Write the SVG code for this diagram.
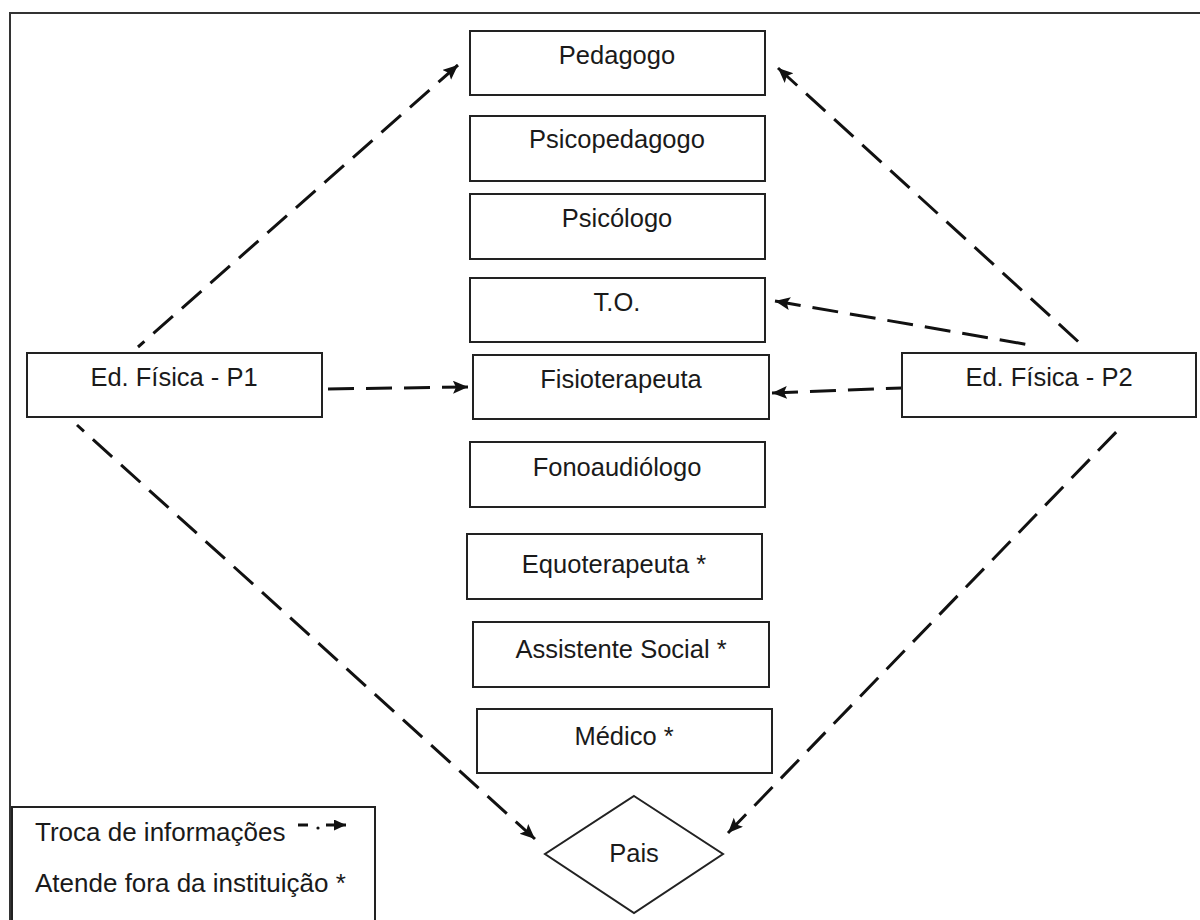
<svg xmlns="http://www.w3.org/2000/svg" width="1200" height="920" viewBox="0 0 1200 920">
  <style>
    .box { fill: #ffffff; stroke: #222222; stroke-width: 2; }
    .lbl { font-family: "Liberation Sans", Arial, sans-serif; font-size: 25.5px; fill: #1a1a1a; text-anchor: middle; }
    .leg { font-family: "Liberation Sans", Arial, sans-serif; font-size: 26px; fill: #1a1a1a; }
    .link { fill: none; stroke: #111111; stroke-width: 3; stroke-dasharray: 26 12; marker-start: url(#head); }
  </style>
  <defs>
    <marker id="head" markerUnits="userSpaceOnUse" markerWidth="16" markerHeight="14" refX="15" refY="6.5" orient="auto-start-reverse">
      <path d="M0,0 L15,6.5 L0,13 L3,6.5 Z" fill="#111111"/>
    </marker>
    <marker id="headSmall" markerUnits="userSpaceOnUse" markerWidth="13" markerHeight="12" refX="12" refY="5.5" orient="auto">
      <path d="M0,0 L12,5.5 L0,11 Z" fill="#111111"/>
    </marker>
  </defs>

  <rect width="1200" height="920" fill="#ffffff"/>
  <!-- outer frame -->
  <path d="M10,930 L10,13 L1205,13" fill="none" stroke="#333333" stroke-width="2"/>

  <!-- connectors: each path starts at the arrow tip -->
  <g id="connectors">
    <path class="link" d="M458,65 L138,347"/>
    <path class="link" d="M778,68 L1083,346"/>
    <path class="link" d="M775,301 L1030,345"/>
    <path class="link" d="M468,387 L322,389"/>
    <path class="link" d="M772,393 L902,388"/>
    <path class="link" d="M535,839 L77,425"/>
    <path class="link" d="M728,833 L1123,425"/>
  </g>

  <g id="pedagogo">
    <rect class="box" x="470" y="31" width="295" height="64"/>
    <text class="lbl" x="617" y="64">Pedagogo</text>
  </g>
  <g id="psicopedagogo">
    <rect class="box" x="470" y="116" width="295" height="65"/>
    <text class="lbl" x="617" y="148">Psicopedagogo</text>
  </g>
  <g id="psicologo">
    <rect class="box" x="470" y="194" width="295" height="65"/>
    <text class="lbl" x="617" y="227">Psicólogo</text>
  </g>
  <g id="to">
    <rect class="box" x="470" y="278" width="295" height="64"/>
    <text class="lbl" x="617" y="311">T.O.</text>
  </g>
  <g id="fisioterapeuta">
    <rect class="box" x="473" y="355" width="296" height="64"/>
    <text class="lbl" x="621" y="388">Fisioterapeuta</text>
  </g>
  <g id="fonoaudiologo">
    <rect class="box" x="470" y="442" width="295" height="65"/>
    <text class="lbl" x="617" y="476">Fonoaudiólogo</text>
  </g>
  <g id="equoterapeuta">
    <rect class="box" x="467" y="534" width="295" height="65"/>
    <text class="lbl" x="614" y="573">Equoterapeuta *</text>
  </g>
  <g id="assistente-social">
    <rect class="box" x="473" y="622" width="296" height="65"/>
    <text class="lbl" x="621" y="658">Assistente Social *</text>
  </g>
  <g id="medico">
    <rect class="box" x="477" y="709" width="295" height="64"/>
    <text class="lbl" x="624" y="745">Médico *</text>
  </g>
  <g id="edfisica-p1">
    <rect class="box" x="27" y="353" width="295" height="64"/>
    <text class="lbl" x="174" y="386">Ed. Física - P1</text>
  </g>
  <g id="edfisica-p2">
    <rect class="box" x="902" y="353" width="294" height="64"/>
    <text class="lbl" x="1049" y="386">Ed. Física - P2</text>
  </g>
  <g id="pais">
    <polygon class="box" points="634,796 723,854 634,913 545,854"/>
    <text class="lbl" x="634" y="862">Pais</text>
  </g>

  <g id="legend">
    <rect x="12" y="807" width="363" height="130" fill="#ffffff" stroke="#222222" stroke-width="2"/>
    <text class="leg" x="35" y="841">Troca de informações</text>
    <line x1="298" y1="825" x2="308" y2="825" stroke="#111111" stroke-width="3"/>
    <circle cx="318" cy="828" r="1.6" fill="#111111"/>
    <line x1="326" y1="825" x2="346" y2="825" stroke="#111111" stroke-width="3" marker-end="url(#headSmall)"/>
    <text class="leg" x="35" y="892">Atende fora da instituição *</text>
  </g>
</svg>
